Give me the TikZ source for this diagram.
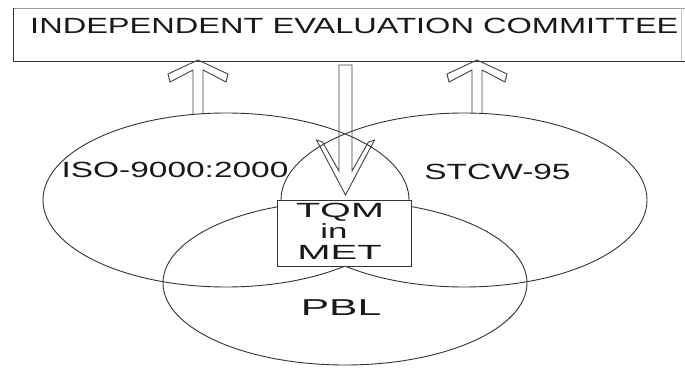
\documentclass[tikz,border=0pt]{standalone}
\usepackage{fontspec}
\setmainfont{Liberation Sans}
% text set at a given size and horizontally widened
\newcommand\widetext[3]{\scalebox{#2}[1]{\fontsize{#1pt}{#1pt}\selectfont #3}}
\begin{document}
\begin{tikzpicture}[x=1pt,y=-1pt,
  outline/.style={draw=black!80,line width=0.9pt},
  blockarrow/.style={draw=black!75,line width=0.9pt,line join=miter},
  lbl/.style={inner sep=0pt,anchor=base,text=black!90},
  uparrow/.pic={
    \draw[blockarrow] (-5,#1) -- (-5,10) -- (-28,22) -- (-30,14) -- (0,0)
      -- (30,14) -- (28,22) -- (5,10) -- (5,#1);
  }]
\useasboundingbox (0,0) rectangle (685,367);

% committee box (runs off the right side)
\draw[draw=black!40,line width=0.8pt] (13,8) -- (685,8);
\draw[draw=black!25,line width=0.6pt] (681,8) -- (681,61);
\draw[draw=black!80,line width=1pt] (685,61) -- (13,61) -- (13,8);
\node[lbl,anchor=base west] (committee) at (30,33)
  {\widetext{22}{1.48}{INDEPENDENT EVALUATION COMMITTEE}};

% the three overlapping sets
\draw[outline] (226,200) ellipse [x radius=183pt, y radius=87pt];
\draw[outline] (464,200) ellipse [x radius=183pt, y radius=87pt];
\draw[outline] (345,283) ellipse [x radius=182pt, y radius=82pt];

% core box in the centre
\path[fill=white,draw=black!80,line width=0.9pt] (277,200) rectangle (411,266);

% feedback arrows up to the committee
\pic at (198,60) {uparrow=54};
\pic at (477,60) {uparrow=53};

% arrow down from the committee
\draw[blockarrow] (345.5,65) ++(-6.5,0) -- ++(13,0) -- (352,171) -- (368.5,142)
  -- (374.5,140) -- (345.5,195) -- (316.5,140) -- (322.5,142) -- (339,171) -- cycle;

% labels
\node[lbl] (iso)  at (175,177) {\widetext{22}{1.52}{ISO-9000:2000}};
\node[lbl] (stcw) at (497.5,179) {\widetext{22}{1.52}{STCW-95}};
\node[lbl] (tqm)  at (340,217) {\widetext{20.5}{1.93}{TQM}};
\node[lbl] (in)   at (334,238) {\widetext{20.5}{1.7}{in}};
\node[lbl] (met)  at (339.5,259) {\widetext{20.5}{1.95}{MET}};
\node[lbl] (pbl)  at (341,315) {\widetext{23}{1.85}{PBL}};
\end{tikzpicture}
\end{document}
